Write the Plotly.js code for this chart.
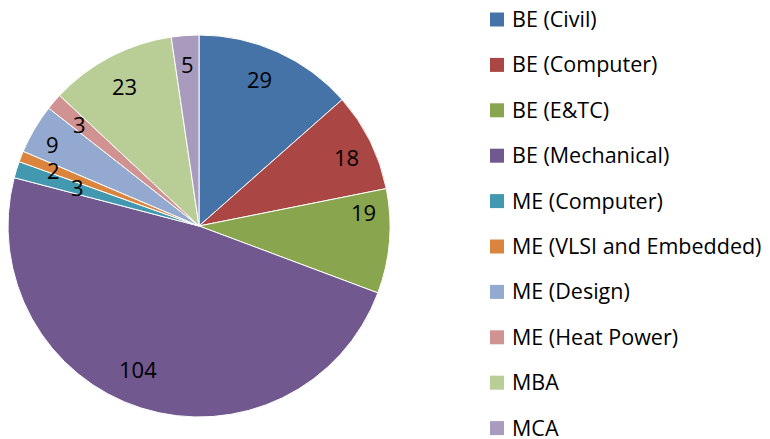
<!DOCTYPE html>
<html><head><meta charset="utf-8">
<script src="https://cdn.plot.ly/plotly-3.0.1.min.js"></script>
<style>html,body{margin:0;padding:0;background:#fff}#chart{width:770px;height:439px}</style>
</head><body><div id="chart"></div>
<script>
const categories = ["BE (Civil)","BE (Computer)","BE (E&TC)","BE (Mechanical)","ME (Computer)","ME (VLSI and Embedded)","ME (Design)","ME (Heat Power)","MBA","MCA"];
const values = [29,18,19,104,3,2,9,3,23,5];
const colors = ["#4572A7","#AA4643","#89A54E","#71588F","#4198AF","#DB843D","#93A9CF","#D19392","#B9CD96","#A99BBD"];
// label placement style (fraction of radius, angular shift in degrees)
const labelRadius = [0.836,0.857,0.864,0.81,0.67,0.82,0.88,0.825,0.836,0.855];
const labelShift  = [-2,1,-9.8,5.6,1,0,-1,0,0,0];

const W = 770, H = 439;
const cx = 199, cy = 226, R = 191;
const FONT = "'Open Sans', sans-serif";

const total = values.reduce((a,b)=>a+b,0);
const annotations = [];
const shapes = [];
let cum = 0;
values.forEach((v,i)=>{
  const mid = (cum + v/2)/total*2*Math.PI + labelShift[i]*Math.PI/180;
  cum += v;
  const r = R*labelRadius[i];
  const px = cx + r*Math.sin(mid), py = cy - r*Math.cos(mid);
  annotations.push({xref:'paper',yref:'paper',x:px/W,y:1-(py+1)/H,text:String(v),showarrow:false,
    xanchor:'center',yanchor:'middle',font:{family:FONT,size:22,color:'#000'}});
});
// legend
const legTop = 19.5, legStep = 45.4;
categories.forEach((c,i)=>{
  const yc = legTop + i*legStep;
  shapes.push({type:'rect',xref:'paper',yref:'paper',x0:490/W,x1:504/W,y0:1-(yc+7)/H,y1:1-(yc-7)/H,
    fillcolor:colors[i],line:{width:0}});
  annotations.push({xref:'paper',yref:'paper',x:510/W,y:1-(yc-1)/H,text:c,showarrow:false,
    xanchor:'left',yanchor:'middle',font:{family:FONT,size:21.5,color:'#000'}});
});

const trace = {
  type:'pie', labels:categories, values:values, sort:false, direction:'clockwise', rotation:0,
  marker:{colors:colors, line:{color:'#fff', width:1}},
  textinfo:'none', hoverinfo:'label+value',
  domain:{x:[(cx-R)/W,(cx+R)/W], y:[1-(cy+R)/H, 1-(cy-R)/H]},
  showlegend:false
};
const layout = {width:W,height:H,margin:{l:0,r:0,t:0,b:0},paper_bgcolor:'#fff',
  showlegend:false, annotations:annotations, shapes:shapes, font:{family:FONT}};
Plotly.newPlot('chart',[trace],layout,{displayModeBar:false,staticPlot:true});
</script></body></html>
